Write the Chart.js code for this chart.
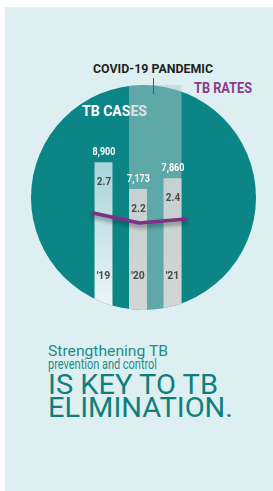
<!DOCTYPE html>
<html>
<head>
<meta charset="utf-8">
<script src="https://cdn.jsdelivr.net/npm/chart.js@4"></script>
<style>
  html, body { margin:0; padding:0; background:#ffffff; width:273px; height:491px; overflow:hidden; }
  #panel { position:absolute; left:5px; top:7px; width:268px; height:484px; background:#ddeff0; }
  #circle { position:absolute; left:31px; top:85px; width:225px; height:225px; border-radius:50%; background:#0b8585; }
  .t { position:absolute; white-space:nowrap; font-family:Roboto, "Noto Sans", sans-serif; line-height:1; transform-origin:0 0; display:inline-block; }
  #wrap { position:absolute; left:0; top:0; width:273px; height:491px; }
</style>
</head>
<body>
<div id="panel"></div>
<div id="circle"></div>
<span class="t" id="tCovid" data-w="120" style="left:93px; top:63.4px; font-size:12.5px; font-weight:700; color:#231f20;">COVID-19 PANDEMIC</span>
<span class="t" id="tRates" data-w="58" style="left:194px; top:81.2px; font-size:14px; font-weight:700; color:#8a3b8c;">TB RATES</span>
<span class="t" id="tCases" data-w="65" style="left:82px; top:105px; font-size:14.5px; font-weight:700; color:#ffffff;">TB CASES</span>
<span class="t" data-w="120" style="left:48px; top:343.5px; font-size:15.5px; font-weight:400; color:#1e8c8a;">Strengthening TB</span>
<span class="t" data-w="109" style="left:48px; top:357px; font-size:15.5px; font-weight:400; color:#1e8c8a;">prevention and control</span>
<span class="t" data-w="170" style="left:48px; top:371.4px; font-size:28px; font-weight:400; color:#0f7f7d;">IS KEY TO TB</span>
<span class="t" data-w="185" style="left:48px; top:394.4px; font-size:28px; font-weight:400; color:#0f7f7d;">ELIMINATION.</span>
<div id="wrap"><canvas id="c"></canvas></div>
<script>
// ---- data ----
const years = ["'19", "'20", "'21"];
const cases = [8900, 7173, 7860];
const caseLabels = ["8,900", "7,173", "7,860"];
const rates = [2.7, 2.2, 2.4];
const rateLabels = ["2.7", "2.2", "2.4"];

// scale static texts to their target widths (condensed look)
document.querySelectorAll('.t').forEach(el => {
  const w = el.getBoundingClientRect().width;
  const target = parseFloat(el.dataset.w);
  el.style.transform = 'scaleX(' + (target / w) + ')';
});

const CX = 143.5, CY = 197.5, R = 112.5;

function clipShape(ctx) {
  ctx.beginPath();
  ctx.arc(CX, CY, R, 0, Math.PI * 2);
  ctx.rect(0, 0, 273, 150);
  ctx.clip();
}

function condText(ctx, txt, x, y, size, color, sx) {
  ctx.save();
  ctx.font = '700 ' + size + 'px Roboto, sans-serif';
  ctx.fillStyle = color;
  ctx.textAlign = 'center';
  ctx.textBaseline = 'alphabetic';
  ctx.translate(x, y);
  ctx.scale(sx, 1);
  ctx.fillText(txt, 0, 0);
  ctx.restore();
}

const decoPlugin = {
  id: 'deco',
  beforeDatasetsDraw(chart) {
    const ctx = chart.ctx;
    const bars = chart.getDatasetMeta(0).data;
    const left = bars[1].x - bars[1].width / 2;
    const right = bars[2].x + bars[2].width / 2;
    ctx.save();
    clipShape(ctx);
    ctx.fillStyle = 'rgba(178,204,204,0.5)';
    ctx.fillRect(left, 85, right - left, 240);
    ctx.restore();
  },
  beforeDatasetDraw(chart, args) {
    const ctx = chart.ctx;
    if (args.index === 0) {
      ctx.save();
      clipShape(ctx);
    } else if (args.index === 1) {
      ctx.save();
      ctx.shadowColor = 'rgba(0,30,30,0.45)';
      ctx.shadowBlur = 4;
      ctx.shadowOffsetY = 3;
    }
  },
  afterDatasetDraw(chart, args) {
    chart.ctx.restore();
  },
  afterDatasetsDraw(chart) {
    const ctx = chart.ctx;
    // pandemic marker tick
    ctx.save();
    ctx.strokeStyle = '#3f5f5f';
    ctx.lineWidth = 1;
    ctx.beginPath();
    ctx.moveTo(153.5, 78);
    ctx.lineTo(153.5, 94);
    ctx.stroke();
    ctx.restore();
    const bars = chart.getDatasetMeta(0).data;
    bars.forEach((el, i) => {
      condText(ctx, caseLabels[i], el.x + 0.5, el.y - 7, 11, '#ffffff', 0.82);
      condText(ctx, rateLabels[i], el.x + 0.5, el.y + 23, 10.5, '#4a4a4a', 0.95);
      condText(ctx, years[i], el.x, 279, 11, '#4a4a4a', 0.95);
    });
  }
};

const ctx = document.getElementById('c').getContext('2d');

function barGrad(context) {
  const chart = context.chart;
  const i = context.dataIndex;
  const g = chart.ctx.createLinearGradient(0, 160, 0, 310);
  if (i === 0) {
    g.addColorStop(0, '#a8d3d9');
    g.addColorStop(1, '#eef6f7');
  } else {
    g.addColorStop(0, '#c3d0d0');
    g.addColorStop(1, '#d3d5d5');
  }
  return g;
}

new Chart(ctx, {
  data: {
    labels: years,
    datasets: [
      {
        type: 'bar',
        label: 'TB CASES',
        data: cases,
        base: -1300,
        backgroundColor: barGrad,
        borderWidth: 0,
        grouped: false,
        barPercentage: 0.52,
        categoryPercentage: 1.0,
        xAxisID: 'x',
        yAxisID: 'y',
        order: 2
      },
      {
        type: 'line',
        label: 'TB RATES',
        data: rates.map((r, i) => ({ x: i, y: r })),
        borderColor: '#7e2f86',
        borderWidth: 3.5,
        pointRadius: 0,
        tension: 0,
        borderJoinStyle: 'round',
        borderCapStyle: 'round',
        xAxisID: 'x2',
        yAxisID: 'y2',
        order: 1
      }
    ]
  },
  options: {
    responsive: true,
    maintainAspectRatio: false,
    devicePixelRatio: 1,
    animation: false,
    layout: { padding: { left: 86.25, right: 83.25, top: 40, bottom: 171 } },
    plugins: { legend: { display: false }, tooltip: { enabled: false } },
    scales: {
      x: { type: 'category', display: false, offset: true, grid: { display: false } },
      y: { type: 'linear', display: false, min: -1300, max: 16800, bounds: 'data' },
      x2: { type: 'linear', display: false, min: -0.145, max: 2.08, bounds: 'data' },
      y2: { type: 'linear', display: false, min: -2.65, max: 11.35, bounds: 'data' }
    }
  },
  plugins: [decoPlugin]
});
</script>
</body>
</html>
